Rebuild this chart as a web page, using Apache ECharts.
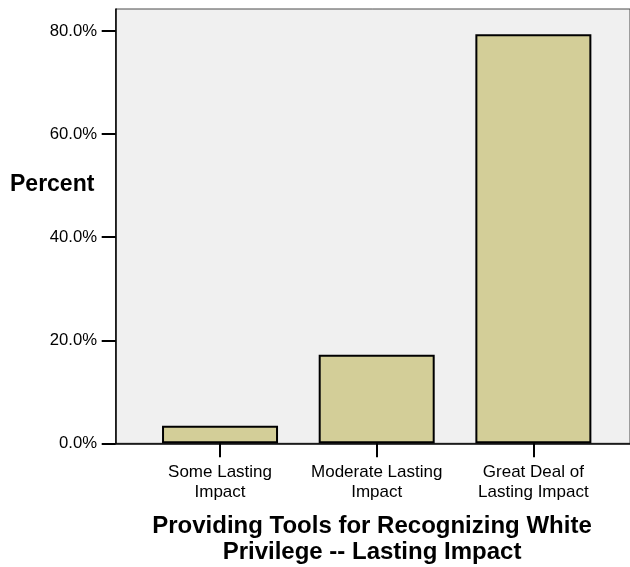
<!DOCTYPE html>
<html>
<head>
<meta charset="utf-8">
<script src="https://cdn.jsdelivr.net/npm/echarts@6/dist/echarts.min.js"></script>
<style>html,body{margin:0;padding:0;background:#fff}#c{width:630px;height:567px}</style>
</head>
<body>
<div id="c"></div>
<script>
const categories = ['Some Lasting\nImpact', 'Moderate Lasting\nImpact', 'Great Deal of\nLasting Impact'];
const percentValues = [3.4, 17.2, 79.4];
const yTicks = [0, 20, 40, 60, 80];
const yAxisTitle = 'Percent';
const xAxisTitle = 'Providing Tools for Recognizing White\nPrivilege -- Lasting Impact';

const FONT = '"Liberation Sans", Arial, sans-serif';
const YMAX = 84.3;
const chart = echarts.init(document.getElementById('c'), null, {renderer: 'canvas'});
chart.setOption({
  animation: false,
  backgroundColor: '#ffffff',
  grid: [
    {left: 115.7, right: -20, top: 9, bottom: 123.7, show: true, backgroundColor: '#f0f0f0', borderColor: '#4a4a4a', borderWidth: 1},
    {left: 141.7, right: 18.3, top: 9, bottom: 123.7}
  ],
  xAxis: [
    {gridIndex: 0, type: 'value', min: 0, max: 1, axisLine: {show: true, onZero: false, lineStyle: {color: '#000', width: 1.5}},
     axisTick: {show: false}, axisLabel: {show: false}, splitLine: {show: false}},
    {gridIndex: 1, type: 'category', data: categories, boundaryGap: true,
     axisLine: {show: false},
     axisTick: {show: true, alignWithLabel: true, length: 14, lineStyle: {color: '#000', width: 2}},
     axisLabel: {color: '#000', fontFamily: FONT, fontSize: 17, lineHeight: 20.6, margin: 18.3, interval: 0}}
  ],
  yAxis: [
    {gridIndex: 0, type: 'value', min: 0, max: YMAX,
     axisLine: {show: true, lineStyle: {color: '#000', width: 1.5}},
     axisTick: {show: true, length: 14, customValues: yTicks, lineStyle: {color: '#000', width: 2}},
     axisLabel: {show: true, customValues: yTicks, color: '#000', fontFamily: FONT, fontSize: 16.7, margin: 18.7,
                 formatter: v => v.toFixed(1) + '%'},
     splitLine: {show: false}},
    {gridIndex: 1, type: 'value', min: 0, max: YMAX, show: false, splitLine: {show: false}}
  ],
  series: [{
    type: 'bar', xAxisIndex: 1, yAxisIndex: 1, data: percentValues, barWidth: 116,
    itemStyle: {color: '#d3ce98', borderColor: '#000', borderWidth: 2}
  }],
  graphic: [
    {type: 'text', left: 10, top: 173, style: {text: yAxisTitle, font: 'bold 23px ' + FONT, fill: '#000'}},
    {type: 'text', x: 372, y: 513, style: {text: xAxisTitle, font: 'bold 24px ' + FONT, fill: '#000', align: 'center', lineHeight: 26.5}}
  ]
});
</script>
</body>
</html>
